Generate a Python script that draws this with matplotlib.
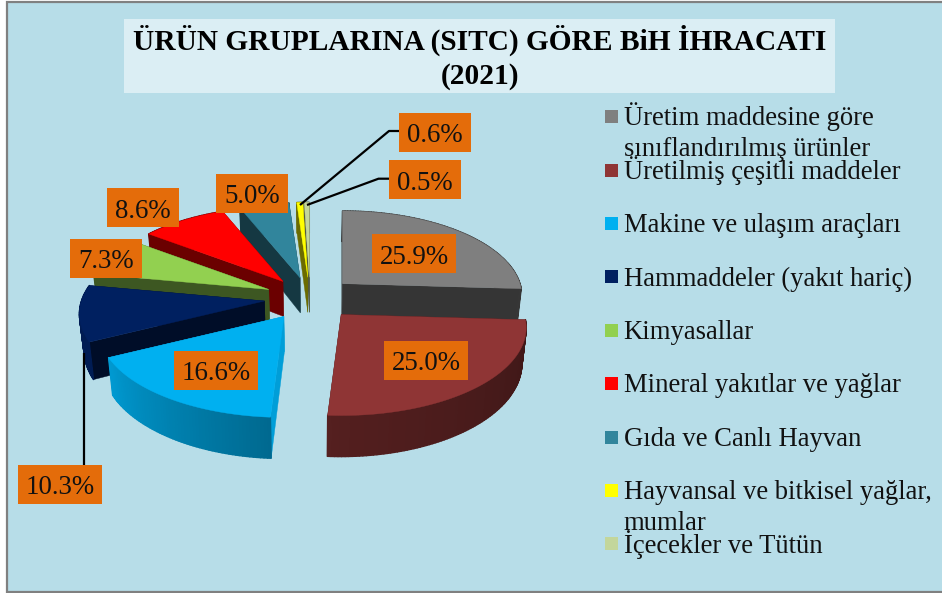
import numpy as np
import matplotlib
matplotlib.use("Agg")
import matplotlib.pyplot as plt
from matplotlib.patches import Rectangle, Polygon
from matplotlib.collections import PolyCollection
from matplotlib.colors import to_rgb

W, H = 942, 593
plt.rcParams['font.family'] = ['Liberation Serif', 'DejaVu Serif']

categories = ["Üretim maddesine göre\nsınıflandırılmış ürünler",
              "Üretilmiş çeşitli maddeler",
              "Makine ve ulaşım araçları",
              "Hammaddeler (yakıt hariç)",
              "Kimyasallar",
              "Mineral yakıtlar ve yağlar",
              "Gıda ve Canlı Hayvan",
              "Hayvansal ve bitkisel yağlar,\nmumlar",
              "İçecekler ve Tütün"]
values = [25.9, 25.0, 16.6, 10.3, 7.3, 8.6, 5.0, 0.6, 0.5]
colors = ["#7F7F7F", "#8F3535", "#00B0F0", "#002060", "#92D050",
          "#FF0000", "#31859C", "#FFFF00", "#C3D69B"]
title_lines = ["ÜRÜN GRUPLARINA (SITC) GÖRE BiH İHRACATI", "(2021)"]

# label box centres (pixel layout), in the order of `values`
label_centres = [(414, 253.5), (426, 360), (216, 370), (60, 484.5), (106, 258),
                 (143, 207.5), (252, 193), (435, 132), (425, 179.5)]
leaders = {3: [(84, 353), (84, 465)],
           7: [(300, 205), (389, 131), (399, 131)],
           8: [(307, 205), (378.5, 178.7), (389, 178.7)]}

CX, CY = 310, 298      # pie centre
RX, RY = 183, 86       # radii of projected disc
K = 0.148              # perspective strength
DEPTH = 35             # thickness
EXPLODE = 0.25
BOTTOM_SCALE = 0.98
RIM_SCALE = {0: 0.97}

fig = plt.figure(figsize=(W / 100, H / 100), dpi=100, facecolor="white")
ax = fig.add_axes([0, 0, 1, 1])
ax.set_xlim(0, W)
ax.set_ylim(H, 0)
ax.axis("off")


def offset(th):
    """Screen offset of a unit-disc rim point at clockwise angle th from 12 o'clock."""
    u, v = np.sin(th), np.cos(th)
    f = 1 / (1 + K * v)
    return RX * u * f, -RY * v * f, DEPTH * f


def shade(rgb, s):
    return tuple(min(1, c * s) for c in rgb)


ax.add_patch(Rectangle((7, 2), W + 10, 589.5, fc="#B7DDE8", ec="#808080", lw=1.6, zorder=0))
ax.add_patch(Rectangle((124, 18.5), 711, 74.5, fc="#DBEEF4", ec="none", zorder=1))
ax.text(480, 49.5, title_lines[0], fontsize=21.2, fontweight="bold", ha="center",
        va="baseline", color="black", zorder=2)
ax.text(480, 84, title_lines[1], fontsize=21.2, fontweight="bold", ha="center",
        va="baseline", color="black", zorder=2)

vals = np.array(values, float)
edges = np.concatenate([[0], np.cumsum(vals)]) * 2 * np.pi / vals.sum()
draw_order = [0, 8, 7, 6, 5, 4, 3, 2, 1]
z = 3
for i in draw_order:
    a0, a1 = edges[i], edges[i + 1]
    mid = (a0 + a1) / 2
    ax0 = CX + EXPLODE * RX * np.sin(mid) / (1 + K * EXPLODE * np.cos(mid))
    ay0 = CY - EXPLODE * RY * np.cos(mid) / (1 + K * EXPLODE * np.cos(mid))
    th = np.linspace(a0, a1, max(6, int((a1 - a0) * 60)))
    dx, dy, dd = offset(th)
    rs = RIM_SCALE.get(i, 1.0)
    xt, yt = ax0 + dx * rs, ay0 + dy * rs
    xb = CX + (xt - CX) * BOTTOM_SCALE
    yb = yt + dd
    axb = CX + (ax0 - CX) * BOTTOM_SCALE
    ayb = ay0 + DEPTH
    rgb = to_rgb(colors[i])
    # flat side faces
    side_s = 0.42
    sides = [[(ax0, ay0), (xt[0], yt[0]), (xb[0], yb[0]), (axb, ayb)],
             [(ax0, ay0), (xt[-1], yt[-1]), (xb[-1], yb[-1]), (axb, ayb)]]
    for poly in sides:
        s = 0.9 if i == 2 else side_s
        ax.add_patch(Polygon(poly, closed=True, fc=shade(rgb, s), ec=shade(rgb, s),
                             lw=0.3, zorder=z))
    z += 1
    # rim wall with angular shading
    deg = np.degrees(th)
    segs, cols = [], []
    for j in range(len(th) - 1):
        segs.append([(xt[j], yt[j]), (xt[j + 1], yt[j + 1]), (xb[j + 1], yb[j + 1]), (xb[j], yb[j])])
        s = np.interp((deg[j] + deg[j + 1]) / 2, [0, 90, 180, 245, 279, 281, 360],
                      [0.42, 0.42, 0.58, 0.88, 0.85, 0.42, 0.42])
        cols.append(shade(rgb, s))
    ax.add_collection(PolyCollection(segs, facecolors=cols, edgecolors=cols, linewidths=1.0, zorder=z))
    z += 1
    # top surface
    ax.add_patch(Polygon(np.column_stack([np.r_[ax0, xt], np.r_[ay0, yt]]), closed=True,
                         fc=colors[i], ec=colors[i], lw=0.3, zorder=z))
    z += 1

for pts in leaders.values():
    p = np.array(pts)
    ax.plot(p[:, 0], p[:, 1], color="black", lw=1.6, zorder=z, solid_capstyle="butt")
z += 1

BOXW = {4: 72, 5: 84.5}
for v, (cx, cy) in zip(values, label_centres):
    txt = f"{v:.1f}%"
    w = BOXW[len(txt)]
    ax.add_patch(Rectangle((cx - w / 2, cy - 19.5), w, 39, fc="#E46C0A", ec="none", zorder=z))
    ax.text(cx, cy + 0.5, txt, fontsize=19.4, ha="center", va="center_baseline", color="#111111", zorder=z + 1)

LEG_Y0, LEG_DY = 116.7, 53.4
for i, (name, col) in enumerate(zip(categories, colors)):
    y = LEG_Y0 + i * LEG_DY
    ax.add_patch(Rectangle((604.5, y - 6.5), 13, 13, fc=col, ec="none", zorder=z))
    for j, line in enumerate(name.split("\n")):
        ax.text(623.5, y + 8.7 + j * 30.7, line, fontsize=19.2, ha="left", va="baseline",
                color="#111111", zorder=z)

fig.savefig("out.png", dpi=100, facecolor="white")
